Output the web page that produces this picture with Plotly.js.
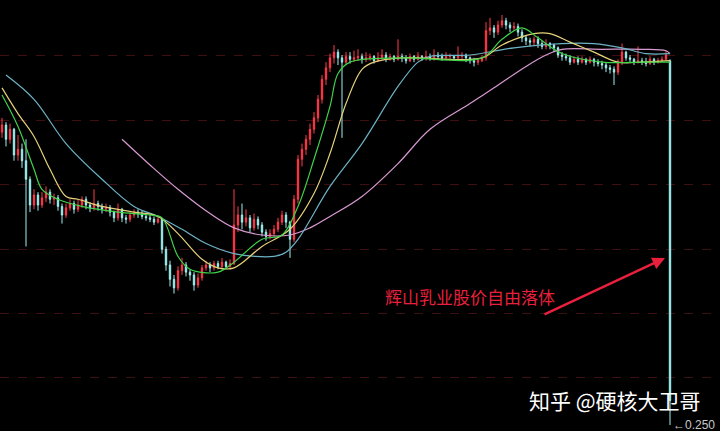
<!DOCTYPE html>
<html><head><meta charset="utf-8">
<script src="https://cdn.plot.ly/plotly-3.0.1.min.js"></script>
<style>html,body{margin:0;padding:0;background:#000;}#chart{width:720px;height:431px;}</style>
</head><body><div id="chart"></div>
<script>
const openP = [2.30,2.35,2.25,2.32,2.14,2.18,2.10,1.97,1.79,1.86, 1.79,1.84,1.88,1.83,1.84,1.78,1.72,1.77,1.80,1.76,
 1.79,1.83,1.79,1.77,1.80,1.78,1.76,1.77,1.74,1.70, 1.76,1.70,1.69,1.72,1.74,1.73,1.71,1.70,1.69,1.67,
 1.69,1.48,1.37,1.27,1.21,1.33,1.37,1.32,1.30,1.23, 1.28,1.35,1.37,1.35,1.38,1.36,1.39,1.36,1.38,1.65,
 1.72,1.67,1.70,1.63,1.69,1.65,1.60,1.57,1.59,1.62, 1.67,1.72,1.67,1.55,1.83,2.11,2.18,2.25,2.32,2.40,
 2.53,2.67,2.75,2.82,2.86,2.82,2.79,2.83,2.81,2.82, 2.83,2.81,2.82,2.83,2.80,2.82,2.84,2.82,2.83,2.81,
 2.83,2.82,2.80,2.83,2.81,2.83,2.82,2.83,2.82,2.84, 2.83,2.82,2.83,2.83,2.82,2.83,2.84,2.82,2.80,2.79,
 2.80,2.82,3.01,3.03,3.00,3.05,3.08,3.05,3.03,3.04, 3.00,2.96,2.94,2.93,2.95,2.92,2.90,2.92,2.91,2.89,
 2.84,2.83,2.82,2.79,2.81,2.79,2.81,2.79,2.81,2.79, 2.78,2.77,2.75,2.74,2.72,2.79,2.86,2.82,2.81,2.79,
 2.80,2.79,2.78,2.81,2.79,2.80,2.81,2.80];
const closeP = [2.35,2.25,2.32,2.14,2.18,2.10,1.97,1.79,1.86,1.79, 1.84,1.88,1.83,1.84,1.78,1.72,1.77,1.80,1.76,1.79,
 1.83,1.79,1.77,1.80,1.78,1.76,1.77,1.74,1.70,1.76, 1.70,1.69,1.72,1.74,1.73,1.71,1.70,1.69,1.67,1.69,
 1.48,1.37,1.27,1.21,1.33,1.37,1.32,1.30,1.23,1.28, 1.35,1.37,1.35,1.38,1.36,1.39,1.36,1.38,1.65,1.72,
 1.67,1.70,1.63,1.69,1.65,1.60,1.57,1.59,1.62,1.67, 1.72,1.67,1.55,1.83,2.11,2.18,2.25,2.32,2.40,2.53,
 2.67,2.75,2.82,2.86,2.82,2.79,2.83,2.81,2.82,2.83, 2.81,2.82,2.83,2.80,2.82,2.84,2.82,2.83,2.81,2.83,
 2.82,2.80,2.83,2.81,2.83,2.82,2.83,2.82,2.84,2.83, 2.82,2.83,2.83,2.82,2.83,2.84,2.82,2.80,2.79,2.80,
 2.82,3.01,3.03,3.00,3.05,3.08,3.05,3.03,3.04,3.00, 2.96,2.94,2.93,2.95,2.92,2.90,2.92,2.91,2.89,2.84,
 2.83,2.82,2.79,2.81,2.79,2.81,2.79,2.81,2.79,2.78, 2.77,2.75,2.74,2.72,2.79,2.86,2.82,2.81,2.79,2.80,
 2.79,2.78,2.81,2.79,2.80,2.81,2.84,0.42];
const highP = [2.40,2.37,2.36,2.33,2.28,2.22,2.25,1.99,1.90,1.88, 1.88,1.92,1.90,1.87,1.86,1.80,1.80,1.83,1.82,1.83,
 1.85,1.85,1.81,1.90,1.82,1.80,1.80,1.79,1.75,1.80, 1.77,1.72,1.74,1.76,1.76,1.75,1.73,1.72,1.71,1.71,
 1.70,1.50,1.40,1.30,1.36,1.42,1.39,1.34,1.32,1.31, 1.37,1.40,1.39,1.40,1.40,1.42,1.40,1.41,1.90,1.78,
 1.80,1.76,1.72,1.73,1.71,1.67,1.62,1.62,1.65,1.70, 1.75,1.74,1.68,1.86,2.14,2.22,2.28,2.36,2.44,2.56,
 2.70,2.79,2.85,2.91,2.88,2.84,2.86,2.86,2.87,2.88, 2.85,2.86,2.85,2.84,2.86,2.88,2.86,2.85,2.84,2.95,
 2.85,2.84,2.85,2.84,2.86,2.84,2.87,2.85,2.88,2.86, 2.85,2.86,2.85,2.84,2.90,2.86,2.85,2.83,2.82,2.82,
 2.84,3.07,3.10,3.05,3.08,3.12,3.10,3.07,3.07,3.06, 3.02,2.98,2.96,2.97,2.97,2.94,2.95,2.93,2.92,2.90,
 2.86,2.85,2.84,2.83,2.83,2.83,2.82,2.83,2.82,2.81, 2.80,2.79,2.77,2.76,2.81,2.92,2.87,2.84,2.82,2.90,
 2.82,2.82,2.83,2.82,2.82,2.83,2.87,2.81];
const lowP = [2.26,2.20,2.22,2.10,2.10,2.05,1.50,1.74,1.76,1.75, 1.77,1.81,1.80,1.79,1.75,1.66,1.70,1.75,1.73,1.74,
 1.77,1.76,1.74,1.75,1.75,1.73,1.74,1.71,1.67,1.68, 1.67,1.66,1.67,1.70,1.70,1.69,1.68,1.67,1.65,1.66,
 1.45,1.33,1.22,1.17,1.19,1.30,1.29,1.26,1.19,1.21, 1.26,1.33,1.32,1.33,1.34,1.34,1.34,1.35,1.37,1.60,
 1.62,1.64,1.60,1.61,1.62,1.57,1.54,1.55,1.57,1.60, 1.65,1.63,1.42,1.53,1.80,2.06,2.14,2.21,2.29,2.37,
 2.50,2.63,2.72,2.78,2.77,2.26,2.77,2.78,2.79,2.80, 2.78,2.79,2.80,2.78,2.79,2.81,2.79,2.80,2.79,2.80,
 2.79,2.78,2.79,2.79,2.80,2.80,2.80,2.80,2.80,2.81, 2.80,2.81,2.81,2.80,2.80,2.81,2.79,2.78,2.76,2.77,
 2.79,2.80,2.98,2.96,2.98,3.03,3.02,3.00,3.01,2.97, 2.93,2.91,2.90,2.91,2.89,2.88,2.88,2.88,2.86,2.82,
 2.80,2.80,2.77,2.78,2.77,2.78,2.77,2.78,2.76,2.76, 2.74,2.72,2.71,2.63,2.70,2.77,2.80,2.79,2.77,2.78,
 2.77,2.76,2.77,2.77,2.78,2.79,2.80,0.25];

// Moving averages (day index, price)
const maGreenX = [0,4,8,10,14,20,29,37,40,44,47,54,58,65,70,74,78,82,84,87,100,120,125,130,134,140,150,160,167];
const maGreenY = [2.56,2.34,2.04,1.90,1.83,1.78,1.74,1.72,1.70,1.43,1.34,1.32,1.39,1.55,1.58,1.78,2.11,2.48,2.71,2.79,2.82,2.82,2.95,3.03,2.96,2.85,2.79,2.79,2.79];
const maYellowX = [0,4,8,12,16,19,25,33,39,44,50,54,58,65,72,78,82,86,90,93,100,120,125,133,137,142,148,154,160,167];
const maYellowY = [2.61,2.43,2.27,2.04,1.85,1.83,1.78,1.74,1.71,1.59,1.41,1.35,1.35,1.50,1.62,1.87,2.15,2.50,2.74,2.79,2.82,2.82,2.91,2.99,2.99,2.93,2.86,2.79,2.79,2.80];
const maTealX = [1,8,16,25,33,39,45,51,58,68,71,74,82,90,99,104,107,117,128,140,148,155,161,167];
const maTealY = [2.70,2.53,2.22,1.97,1.78,1.71,1.62,1.52,1.45,1.43,1.46,1.55,1.92,2.22,2.62,2.79,2.83,2.84,2.89,2.92,2.92,2.89,2.85,2.85];
const maPinkX = [30,37,44,52,58,65,72,77,82,90,99,107,117,123,131,136,140,150,160,166,167];
const maPinkY = [2.25,2.07,1.90,1.73,1.63,1.58,1.58,1.63,1.71,1.85,2.08,2.32,2.50,2.61,2.76,2.84,2.88,2.88,2.88,2.87,2.85];

const gridLevels = [2.84,2.385,1.937,1.482,1.034,0.586];
const noteText = '辉山乳业股价自由落体';
const markText = '知乎 @硬核大卫哥';
const lowLabel = '←0.250';
const lowValue = 0.25;

const days = openP.map((_, i) => i);

const traces = [
  {type:'candlestick', x:days, open:openP, high:highP, low:lowP, close:closeP,
   increasing:{line:{color:'#ff3a4a', width:1}, fillcolor:'#ff3a4a'},
   decreasing:{line:{color:'#9ef2f0', width:1}, fillcolor:'#9ef2f0'},
   whiskerwidth:0, hoverinfo:'skip'},
  {type:'scatter', mode:'lines', x:maPinkX, y:maPinkY, line:{color:'#d99ad2', width:1.2, shape:'spline', smoothing:1}, hoverinfo:'skip'},
  {type:'scatter', mode:'lines', x:maTealX, y:maTealY, line:{color:'#6cb3c6', width:1.2, shape:'spline', smoothing:1}, hoverinfo:'skip'},
  {type:'scatter', mode:'lines', x:maYellowX, y:maYellowY, line:{color:'#e6d27a', width:1.2, shape:'spline', smoothing:1}, hoverinfo:'skip'},
  {type:'scatter', mode:'lines', x:maGreenX, y:maGreenY, line:{color:'#3fd24a', width:1.2, shape:'spline', smoothing:1}, hoverinfo:'skip'}
];

const layout = {
  width:720, height:431,
  margin:{l:0, r:0, t:0, b:0},
  paper_bgcolor:'#000', plot_bgcolor:'#000',
  showlegend:false,
  boxgap:0.5,
  xaxis:{range:[-0.5,179.5], showgrid:false, zeroline:false, showticklabels:false, showline:false, rangeslider:{visible:false}, fixedrange:true},
  yaxis:{range:[0.208,3.225], tickvals:gridLevels, showticklabels:false, gridcolor:'#3e0e10', griddash:'dash', gridwidth:1, zeroline:false, showline:false, fixedrange:true},
  annotations:[
    {x:117, y:1.153, xref:'x', yref:'y', text:noteText, showarrow:false,
     font:{family:'Noto Sans CJK SC', size:17, color:'#e8203c'}},
    {x:165.75, y:1.419, xref:'x', yref:'y', ax:-122, ay:57, text:'', showarrow:true,
     arrowcolor:'#e8203c', arrowwidth:2.5, arrowhead:2, arrowsize:1},
    {x:527/720, y:1-400/431, xref:'paper', yref:'paper', xanchor:'left', yanchor:'middle', text:markText, showarrow:false,
     font:{family:'Noto Sans CJK SC', size:21, color:'#ffffff'}},
    {x:167, y:lowValue, xref:'x', yref:'y', xanchor:'left', yanchor:'middle', xshift:1, text:lowLabel, showarrow:false,
     font:{family:'Liberation Sans', size:12, color:'#c8c8c8'}}
  ]
};

Plotly.newPlot('chart', traces, layout, {displayModeBar:false, staticPlot:true});
</script></body></html>
